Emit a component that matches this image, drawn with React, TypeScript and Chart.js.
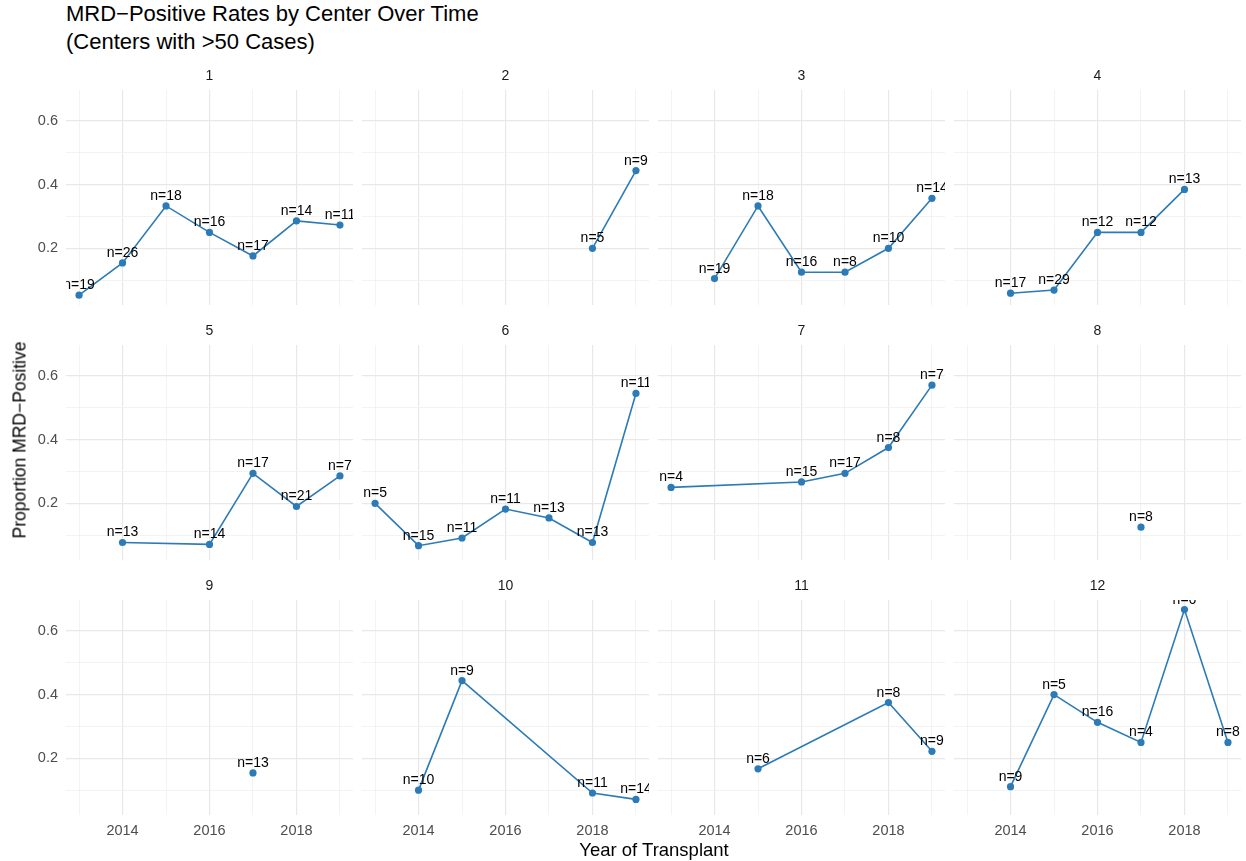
import React, { useEffect, useRef } from "react";
import { Chart, registerables } from "chart.js";

Chart.register(...registerables);

// Transplant years shown on every panel
const YEARS = [2013, 2014, 2015, 2016, 2017, 2018, 2019];
const X_TICK_LABELS = ["2014", "2016", "2018"];
const Y_TICK_LABELS = ["0.2", "0.4", "0.6"];
const Y_TICKS = [0.1, 0.2, 0.3, 0.4, 0.5, 0.6];

// Proportion MRD-positive per year (null = no cases that year) and case counts
const rate1 = [0.053, 0.154, 0.333, 0.25, 0.176, 0.286, 0.273];
const n1 = [19, 26, 18, 16, 17, 14, 11];
const rate2 = [null, null, null, null, null, 0.2, 0.444];
const n2 = [null, null, null, null, null, 5, 9];
const rate3 = [null, 0.105, 0.333, 0.125, 0.125, 0.2, 0.357];
const n3 = [null, 19, 18, 16, 8, 10, 14];
const rate4 = [null, 0.059, 0.069, 0.25, 0.25, 0.385, null];
const n4 = [null, 17, 29, 12, 12, 13, null];
const rate5 = [null, 0.077, null, 0.071, 0.294, 0.19, 0.286];
const n5 = [null, 13, null, 14, 17, 21, 7];
const rate6 = [0.2, 0.067, 0.091, 0.182, 0.154, 0.077, 0.545];
const n6 = [5, 15, 11, 11, 13, 13, 11];
const rate7 = [0.25, null, null, 0.267, 0.294, 0.375, 0.571];
const n7 = [4, null, null, 15, 17, 8, 7];
const rate8 = [null, null, null, null, 0.125, null, null];
const n8 = [null, null, null, null, 8, null, null];
const rate9 = [null, null, null, null, 0.154, null, null];
const n9 = [null, null, null, null, 13, null, null];
const rate10 = [null, 0.1, 0.444, null, null, 0.091, 0.071];
const n10 = [null, 10, 9, null, null, 11, 14];
const rate11 = [null, null, 0.167, null, null, 0.375, 0.222];
const n11 = [null, null, 6, null, null, 8, 9];
const rate12 = [null, 0.111, 0.4, 0.313, 0.25, 0.667, 0.25];
const n12 = [null, 9, 5, 16, 4, 6, 8];

const CENTERS = ["1", "2", "3", "4", "5", "6", "7", "8", "9", "10", "11", "12"];
const RATES = [rate1, rate2, rate3, rate4, rate5, rate6, rate7, rate8, rate9, rate10, rate11, rate12];
const COUNTS = [n1, n2, n3, n4, n5, n6, n7, n8, n9, n10, n11, n12];

// Shared scale limits (same for every facet)
const X_MIN = 2012.7;
const X_MAX = 2019.3;
const Y_MIN = 0.022;
const Y_MAX = 0.697;

// Facet geometry
const PANEL_LEFTS = [66, 362, 658, 954];
const PANEL_TOPS = [90, 345, 600];
const PANEL_W = 287;
const PANEL_H = 215;
const PAD_L = 60;
const PAD_R = 10;
const PAD_T = 30;
const PAD_B = 30;

const FONT = '"Liberation Sans", Arial, Helvetica, sans-serif';
const LINE_COLOR = "#2c7bb6";
const TICK_COLOR = "#4d4d4d";
const GRID_MAJOR = "#e8e8e8";
const GRID_MINOR = "#f0f0f0";

Chart.defaults.font.family = FONT;

type PanelProps = {
  label: string;
  rates: (number | null)[];
  counts: (number | null)[];
  showX: boolean;
  showY: boolean;
  left: number;
  top: number;
};

function Panel({ label, rates, counts, showX, showY, left, top }: PanelProps) {
  const ref = useRef<HTMLCanvasElement>(null);

  useEffect(() => {
    const canvas = ref.current;
    if (!canvas) return;

    const pts: { x: number; y: number; n: number }[] = [];
    YEARS.forEach((yr, i) => {
      const r = rates[i];
      const n = counts[i];
      if (r !== null && n !== null) pts.push({ x: yr, y: r, n });
    });

    const isMajorX = (v: number) => X_TICK_LABELS.includes(String(v));
    const yLabel = (v: number) => v.toFixed(1);
    const isMajorY = (v: number) => Y_TICK_LABELS.includes(yLabel(v));

    const textPlugin = {
      id: "panelText",
      afterDatasetsDraw(chart: any) {
        const { ctx, chartArea } = chart;
        const meta = chart.getDatasetMeta(0);
        // count labels, clipped to the panel
        ctx.save();
        ctx.beginPath();
        ctx.rect(chartArea.left, chartArea.top, chartArea.right - chartArea.left, chartArea.bottom - chartArea.top);
        ctx.clip();
        ctx.font = `14px ${FONT}`;
        ctx.fillStyle = "#000000";
        ctx.textAlign = "center";
        ctx.textBaseline = "alphabetic";
        meta.data.forEach((el: any, i: number) => {
          ctx.fillText(`n=${pts[i].n}`, el.x, el.y - 6);
        });
        ctx.restore();
        // facet strip label
        ctx.save();
        ctx.font = `14px ${FONT}`;
        ctx.fillStyle = "#1a1a1a";
        ctx.textAlign = "center";
        ctx.textBaseline = "middle";
        ctx.fillText(label, (chartArea.left + chartArea.right) / 2, chartArea.top - 14);
        ctx.restore();
      },
    };

    const chart = new Chart(canvas, {
      type: "line",
      data: {
        datasets: [
          {
            data: pts.map((p) => ({ x: p.x, y: p.y })),
            borderColor: LINE_COLOR,
            backgroundColor: LINE_COLOR,
            borderWidth: 1.6,
            pointRadius: 3.6,
            pointBorderWidth: 0,
            pointBackgroundColor: LINE_COLOR,
            tension: 0,
            fill: false,
          },
        ],
      },
      options: {
        responsive: false,
        animation: false,
        events: [],
        layout: { padding: { top: PAD_T, right: PAD_R, left: 0, bottom: 0 } },
        plugins: { legend: { display: false }, tooltip: { enabled: false }, title: { display: false } },
        scales: {
          x: {
            type: "linear",
            min: X_MIN,
            max: X_MAX,
            afterBuildTicks: (s: any) => {
              s.ticks = YEARS.map((v) => ({ value: v }));
            },
            afterFit: (s: any) => {
              s.height = PAD_B;
            },
            ticks: {
              display: showX,
              autoSkip: false,
              maxRotation: 0,
              minRotation: 0,
              padding: 7,
              color: TICK_COLOR,
              font: { size: 14.5, family: FONT },
              callback: (v: any) => (isMajorX(Number(v)) ? String(v) : ""),
            },
            grid: {
              drawTicks: false,
              color: (c: any) => (isMajorX(c.tick?.value) ? GRID_MAJOR : GRID_MINOR),
              lineWidth: (c: any) => (isMajorX(c.tick?.value) ? 1.2 : 0.8),
            },
            border: { display: false },
          },
          y: {
            type: "linear",
            min: Y_MIN,
            max: Y_MAX,
            afterBuildTicks: (s: any) => {
              s.ticks = Y_TICKS.map((v) => ({ value: v }));
            },
            afterFit: (s: any) => {
              s.width = PAD_L;
            },
            ticks: {
              display: showY,
              autoSkip: false,
              padding: 8,
              color: TICK_COLOR,
              font: { size: 14.5, family: FONT },
              callback: (v: any) => (isMajorY(Number(v)) ? yLabel(Number(v)) : ""),
            },
            grid: {
              drawTicks: false,
              color: (c: any) => (isMajorY(c.tick?.value ?? 0) ? GRID_MAJOR : GRID_MINOR),
              lineWidth: (c: any) => (isMajorY(c.tick?.value ?? 0) ? 1.2 : 0.8),
            },
            border: { display: false },
          },
        },
      },
      plugins: [textPlugin],
    });

    return () => chart.destroy();
  }, [label, rates, counts, showX, showY]);

  return (
    <canvas
      ref={ref}
      width={PANEL_W + PAD_L + PAD_R}
      height={PANEL_H + PAD_T + PAD_B}
      style={{
        position: "absolute",
        left: left - PAD_L,
        top: top - PAD_T,
        width: PANEL_W + PAD_L + PAD_R,
        height: PANEL_H + PAD_T + PAD_B,
      }}
    />
  );
}

export default function App() {
  return (
    <div
      style={{
        position: "absolute",
        left: 0,
        top: 0,
        width: 1246,
        height: 861,
        background: "#ffffff",
        fontFamily: FONT,
        overflow: "hidden",
      }}
    >
      <div
        style={{
          position: "absolute",
          left: 66,
          top: 0,
          fontSize: 22,
          lineHeight: "28px",
          color: "#000000",
          whiteSpace: "nowrap",
        }}
      >
        MRD−Positive Rates by Center Over Time
        <br />
        (Centers with &gt;50 Cases)
      </div>

      {CENTERS.map((c, i) => {
        const col = i % 4;
        const row = Math.floor(i / 4);
        return (
          <Panel
            key={c}
            label={c}
            rates={RATES[i]}
            counts={COUNTS[i]}
            showX={row === 2}
            showY={col === 0}
            left={PANEL_LEFTS[col]}
            top={PANEL_TOPS[row]}
          />
        );
      })}

      <div
        style={{
          position: "absolute",
          left: 20,
          top: 440,
          transform: "translate(-50%, -50%) rotate(-90deg)",
          fontSize: 17.5,
          color: "#000000",
          whiteSpace: "nowrap",
        }}
      >
        Proportion MRD−Positive
      </div>

      <div
        style={{
          position: "absolute",
          left: 654,
          top: 850,
          transform: "translate(-50%, -50%)",
          fontSize: 18.5,
          color: "#000000",
          whiteSpace: "nowrap",
        }}
      >
        Year of Transplant
      </div>
    </div>
  );
}
